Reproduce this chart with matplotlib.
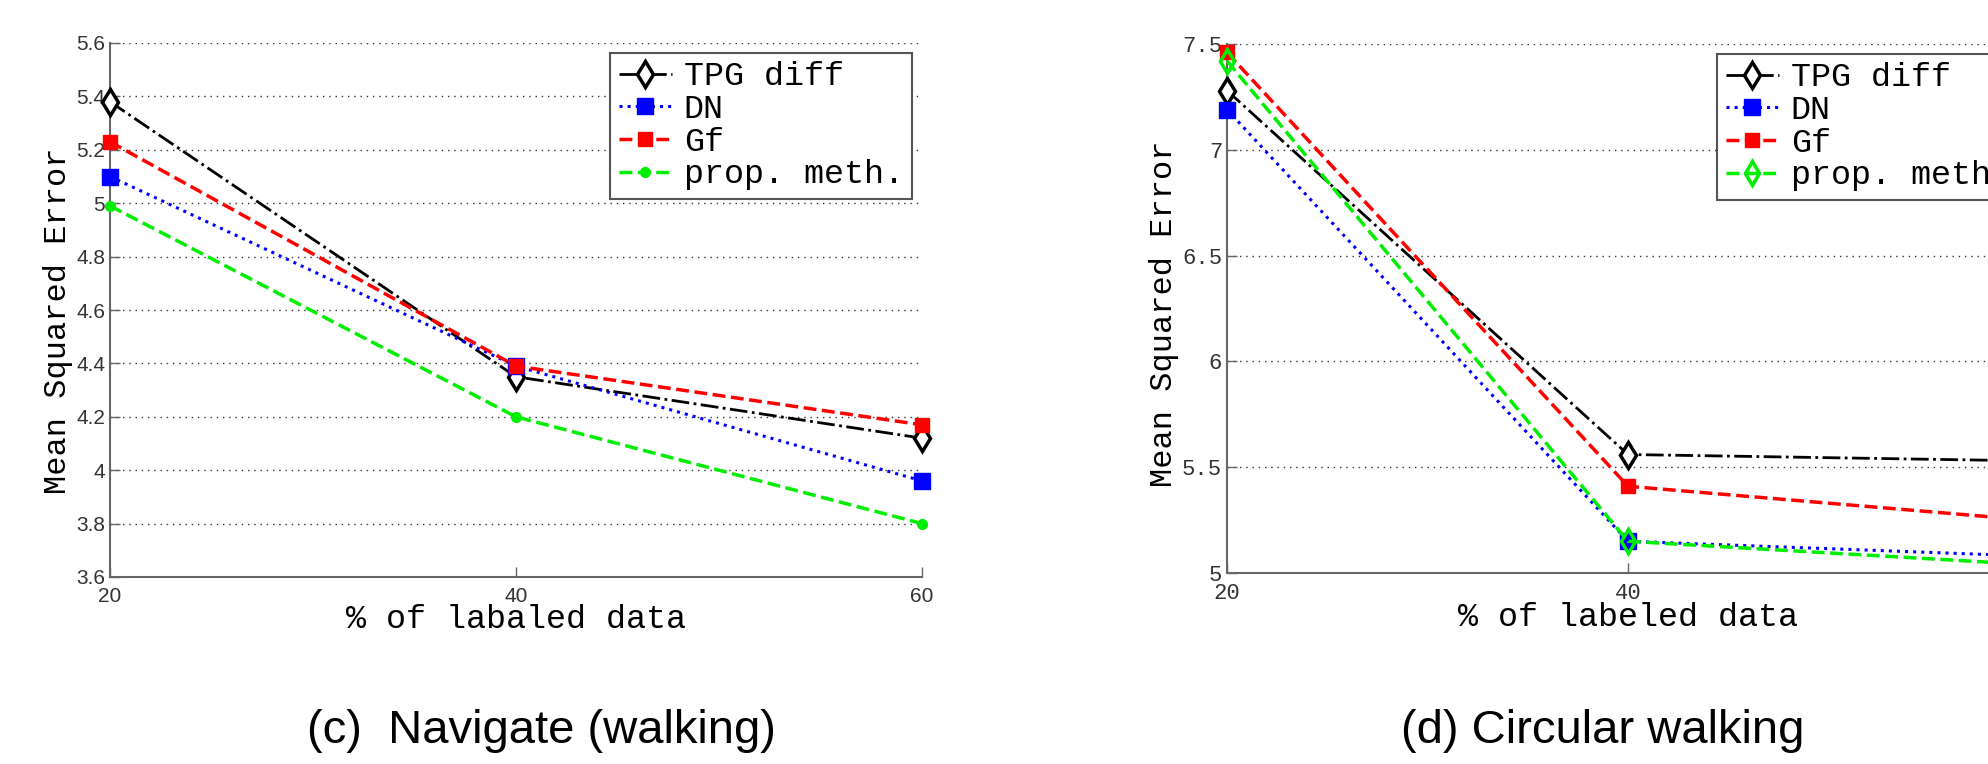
import matplotlib
matplotlib.use("Agg")
import matplotlib.pyplot as plt

# x values (% of labeled data)
pct = [20, 40, 60]

# (c) Navigate (walking)
nav_tpg = [5.38, 4.35, 4.12]
nav_dn = [5.10, 4.39, 3.96]
nav_gf = [5.23, 4.39, 4.17]
nav_prop = [4.99, 4.20, 3.80]

# (d) Circular walking
circ_tpg = [7.28, 5.56, 5.53]
circ_dn = [7.19, 5.15, 5.08]
circ_gf = [7.46, 5.41, 5.25]
circ_prop = [7.42, 5.15, 5.04]

names = ["TPG diff", "DN", "Gf", "prop. meth."]

nav_yticks = [3.6, 3.8, 4.0, 4.2, 4.4, 4.6, 4.8, 5.0, 5.2, 5.4, 5.6]
nav_yticklabels = ["3.6", "3.8", "4", "4.2", "4.4", "4.6", "4.8", "5", "5.2", "5.4", "5.6"]
circ_yticks = [5.0, 5.5, 6.0, 6.5, 7.0, 7.5]
circ_yticklabels = ["5", "5.5", "6", "6.5", "7", "7.5"]

mono = "Liberation Mono"
sans = "Liberation Sans"

fig = plt.figure(figsize=(19.88, 7.64), dpi=100)
ax1 = fig.add_axes([110 / 1988, 1 - 577 / 764, 812 / 1988, 534 / 764])
ax2 = fig.add_axes([1227 / 1988, 1 - 573 / 764, 802 / 1988, 529 / 764])


def draw(ax, tpg, dn, gf, prop, prop_marker):
    ax.plot(pct, tpg, color="black", ls="-.", lw=2, marker="d", ms=13,
            mfc="white", mec="black", mew=2.5, clip_on=False, zorder=4)
    ax.plot(pct, dn, color="blue", ls=":", lw=2.2, marker="s", ms=12,
            mfc="blue", mec="blue", clip_on=False, zorder=4)
    ax.plot(pct, gf, color="red", ls="--", lw=2.5, marker="s", ms=10,
            mfc="red", mec="red", clip_on=False, zorder=4)
    if prop_marker == "o":
        ax.plot(pct, prop, color="#00ee00", ls="--", lw=2.5, marker="o", ms=7,
                mfc="#00ee00", mec="#00ee00", clip_on=False, zorder=4)
    else:
        ax.plot(pct, prop, color="#00ee00", ls="--", lw=2.5, marker="d", ms=12,
                mfc="none", mec="#00ee00", mew=2.5, clip_on=False, zorder=4)

    ax.set_xlim(20, 60)
    ax.set_xticks(pct)
    for s in ["top", "right"]:
        ax.spines[s].set_visible(False)
    for s in ["left", "bottom"]:
        ax.spines[s].set_color("#666666")
        ax.spines[s].set_linewidth(1.5)
    ax.yaxis.grid(True, ls=(0, (1, 3.5)), color="#333333", lw=1.0)
    ax.set_axisbelow(True)
    ax.tick_params(direction="in", length=7, width=1, color="#666666",
                   top=False, right=False, labelcolor="#333333")
    ax.tick_params(axis="x", pad=7)

    leg = ax.legend(names, loc="upper right", prop={"family": mono, "size": 24},
                    fancybox=False, framealpha=1, edgecolor="#555555",
                    handlelength=1.6, handletextpad=0.35, labelspacing=0.05,
                    borderpad=0.25, borderaxespad=0.3)
    leg.get_frame().set_linewidth(1.5)
    return leg


draw(ax1, nav_tpg, nav_dn, nav_gf, nav_prop, "o")
ax1.set_ylim(3.6, 5.6)
ax1.set_yticks(nav_yticks)
ax1.set_yticklabels(nav_yticklabels)
for t in ax1.get_xticklabels() + ax1.get_yticklabels():
    t.set_fontfamily(sans)
    t.set_fontsize(15)
ax1.set_xlabel("% of labaled data", family=mono, fontsize=24)
ax1.set_ylabel("Mean Squared Error", family=mono, fontsize=23)
ax1.xaxis.set_label_coords(0.5, -0.05)
ax1.yaxis.set_label_coords(-0.045, 0.48)

draw(ax2, circ_tpg, circ_dn, circ_gf, circ_prop, "d")
ax2.set_ylim(5.0, 7.5)
ax2.set_yticks(circ_yticks)
ax2.set_yticklabels(circ_yticklabels)
for t in ax2.get_xticklabels() + ax2.get_yticklabels():
    t.set_fontfamily(mono)
    t.set_fontsize(16)
ax2.set_xlabel("% of labeled data", family=mono, fontsize=24)
ax2.set_ylabel("Mean Squared Error", family=mono, fontsize=23)
ax2.xaxis.set_label_coords(0.5, -0.055)
ax2.yaxis.set_label_coords(-0.06, 0.49)

fig.text(541 / 1988, 0.0275, "(c)  Navigate (walking)", ha="center", va="baseline",
         family=sans, fontsize=34)
fig.text(1603 / 1988, 0.0275, "(d) Circular walking", ha="center", va="baseline",
         family=sans, fontsize=34)

fig.savefig("out.png", dpi=100)
